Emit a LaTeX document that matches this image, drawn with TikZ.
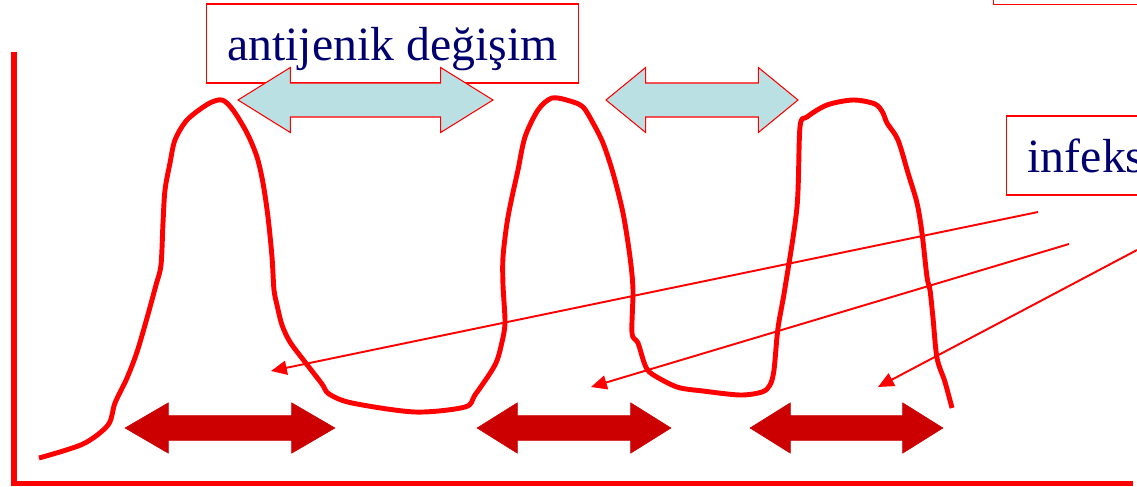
\documentclass[tikz,border=0pt]{standalone}
\usepackage{fontspec}
\setmainfont{Liberation Serif}
\usetikzlibrary{arrows.meta,shapes.arrows}
\definecolor{curvered}{RGB}{255,0,0}
\definecolor{darkarr}{RGB}{204,0,0}
\definecolor{paleblue}{RGB}{187,224,227}
\definecolor{navytext}{RGB}{0,0,110}

\begin{document}
\begin{tikzpicture}[x=0.02cm, y=-0.02cm,
  lbl/.style={draw=curvered, fill=white, line width=0.8pt, text=navytext,
              font=\fontsize{27.2}{30}\selectfont, minimum height=1.58cm,
              inner xsep=0.42cm, text depth=0pt},
  antarrow/.style={double arrow, draw=curvered, line width=0.6pt, fill=paleblue,
              double arrow head extend=0.31cm, inner xsep=0pt, inner ysep=0.33cm},
  infarrow/.style={double arrow, draw=darkarr, line width=0.3pt, fill=darkarr,
              double arrow head extend=0.26cm, inner xsep=0pt, inner ysep=0.24cm},
  axis/.style={draw=curvered, line width=3.3pt},
  curve/.style={draw=curvered, line width=2.8pt, line join=round},
  ptr/.style={draw=curvered, line width=1.1pt, -{Triangle[length=9pt,width=8pt]}}]
\useasboundingbox (0,0) rectangle (1137,487);

% axes
\draw[axis] (14,52) -- (14,483.5) -- (1133,483.5);

% waves of infection
\draw[curve] plot[smooth, tension=0.5] coordinates {
  (39,458) (83,444) (108,425) (115,403) (127,378) (137,352) (147,318)
  (156,285) (161,265) (163,223) (165,190) (170,163) (175,140) (187,120)
  (208,104) (222,100) (233,110) (247,133) (257,157) (263,183) (268,217)
  (272,257) (274,290) (277,305) (282,325) (290,342) (305,362) (322,384)
  (329,394) (352,403) (415,412) (465,407) (475,395) (495,365) (502,342)
  (505,322) (503,285) (503,257) (507,223) (512,197) (518,170) (525,137)
  (538,110) (552,98) (570,101) (583,107) (593,123) (603,143) (613,173)
  (623,213) (630,257) (633,290) (632,333) (638,343) (645,365) (652,374)
  (677,387) (703,391) (740,395) (762,392) (770,385) (774,370) (778,328)
  (785,288) (797,207) (800,127) (807,117) (827,105) (853,100) (875,104)
  (883,113) (887,123) (898,140) (908,173) (917,203) (922,233) (927,277)
  (930,290) (933,318) (937,358) (945,382) (952,408)};

% labels
\node[lbl] (ant) at (392.5,43.5) {antijenik değişim};
\node[lbl, anchor=south west, minimum width=4cm] (topbox) at (993,5) {};
\node[lbl, anchor=west] (inf) at (1006,155.5) {infeks};

% antigenic change
\node[antarrow, minimum height=5.1cm, double arrow tip angle=63.7] (chgA) at (365.5,100) {};
\node[antarrow, minimum height=3.84cm, double arrow tip angle=78.7] (chgB) at (702,100) {};

% infection periods
\node[infarrow, minimum height=4.2cm, double arrow tip angle=60.4] (per1) at (230,428) {};
\node[infarrow, minimum height=3.88cm, double arrow tip angle=64] (per2) at (574,428) {};
\node[infarrow, minimum height=3.86cm, double arrow tip angle=64] (per3) at (846.5,428) {};

% pointers from the label
\coordinate (s1) at (1038,212);
\coordinate (s2) at (1069,244);
\coordinate (s3) at (1137,250);
\coordinate (e1) at (271,371);
\coordinate (e2) at (591,387);
\coordinate (e3) at (878,387);
\draw[ptr] (s1) -- (e1);
\draw[ptr] (s2) -- (e2);
\draw[ptr] (s3) -- (e3);
\end{tikzpicture}
\end{document}
